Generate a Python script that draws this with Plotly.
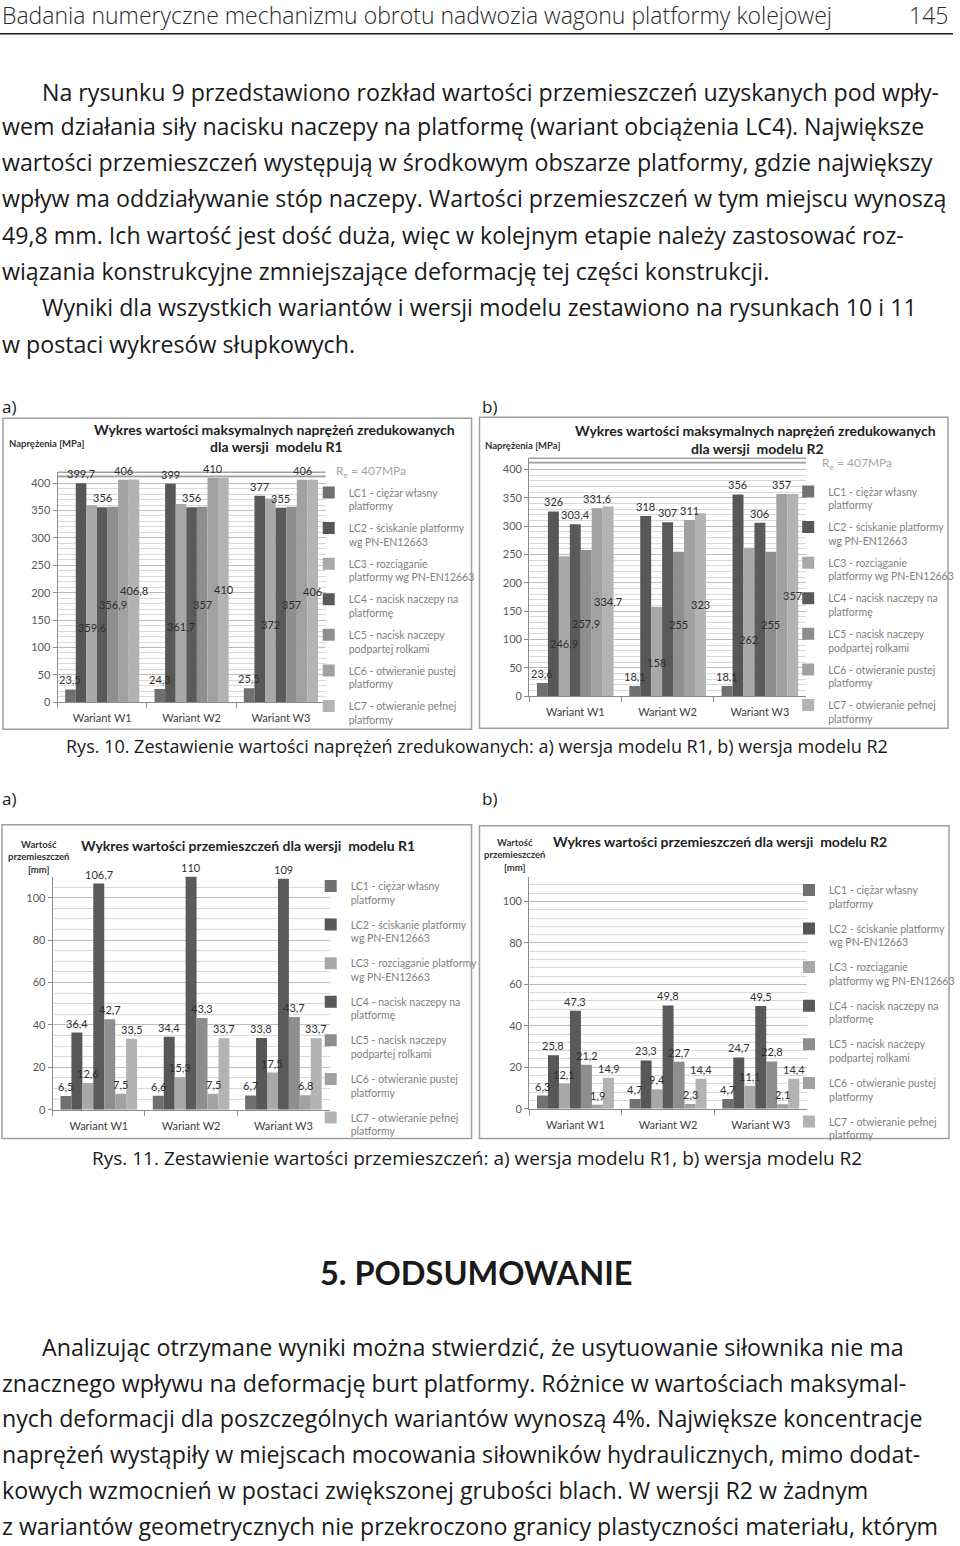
import plotly.graph_objects as go

W, H = 960, 1546

# ---------------- data ----------------
variants = ["Wariant W1", "Wariant W2", "Wariant W3"]
case_colors = ["#707070", "#575757", "#a8a8a8", "#5a5a5a", "#8e8e8e", "#a1a1a1", "#b3b3b3"]

legend_r1_stress = ["LC1 - ciężar własny<br>platformy", "LC2 - ściskanie platformy<br>wg PN-EN12663",
                    "LC3 - rozciąganie<br>platformy wg PN-EN12663", "LC4 - nacisk naczepy na<br>platformę",
                    "LC5 - nacisk naczepy<br>podpartej rolkami", "LC6 - otwieranie pustej<br>platformy",
                    "LC7 - otwieranie pełnej<br>platformy"]
legend_r2_stress = ["LC1 - ciężar własny<br>platformy", "LC2 - ściskanie platformy<br>wg PN-EN12663",
                    "LC3 - rozciąganie<br>platformy wg PN-EN12663", "LC4 - nacisk naczepy na<br>platformę",
                    "LC5 - nacisk naczepy<br>podpartej rolkami", "LC6 - otwieranie pustej<br>platformy",
                    "LC7 - otwieranie pełnej<br>platformy"]
legend_r1_disp = ["LC1 - ciężar własny<br>platformy", "LC2 - ściskanie platformy<br>wg PN-EN12663",
                  "LC3 - rozciąganie platformy<br>wg PN-EN12663", "LC4 - nacisk naczepy na<br>platformę",
                  "LC5 - nacisk naczepy<br>podpartej rolkami", "LC6 - otwieranie pustej<br>platformy",
                  "LC7 - otwieranie pełnej<br>platformy"]
legend_r2_disp = ["LC1 - ciężar własny<br>platformy", "LC2 - ściskanie platformy<br>wg PN-EN12663",
                  "LC3 - rozciąganie<br>platformy wg PN-EN12663", "LC4 - nacisk naczepy na<br>platformę",
                  "LC5 - nacisk naczepy<br>podpartej rolkami", "LC6 - otwieranie pustej<br>platformy",
                  "LC7 - otwieranie pełnej<br>platformy"]

# values per load case LC1..LC7, each for (W1, W2, W3)
stress_r1 = [[23.5, 24.3, 25.5], [399.7, 399, 377], [359.6, 361.7, 372], [356, 356, 355],
             [356.9, 357, 357], [406, 410, 406], [406.8, 410, 406]]
stress_r2 = [[23.6, 18.1, 18.1], [326, 318, 356], [246.9, 158, 262], [303.4, 307, 306],
             [257.9, 255, 255], [331.6, 311, 357], [334.7, 323, 357]]
disp_r1 = [[6.5, 6.6, 6.7], [36.4, 34.4, 33.8], [12.6, 15.3, 17.5], [106.7, 110, 109],
           [42.7, 43.3, 43.7], [7.5, 7.5, 6.8], [33.5, 33.7, 33.7]]
disp_r2 = [[6.3, 4.7, 4.7], [25.8, 23.3, 24.7], [12.1, 9.4, 11.1], [47.3, 49.8, 49.5],
           [21.2, 22.7, 22.8], [1.9, 2.3, 2.1], [14.9, 14.4, 14.4]]

# label placement: None = above the bar, number = fraction of bar height (inside)
stress_label_pos = [None, None, 0.38, None, 0.5, None, 0.5]
disp_label_pos = [None] * 7

yield_strength = "R<sub>e</sub> = 407MPa"

# ---------------- helpers ----------------
def px_x(p):
    return p / W

def px_y(p):
    return 1 - p / H

CH = "Lato, 'Open Sans', sans-serif"
BODY = "'Open Sans', Lato, sans-serif"
BARGAP = 0.17

fig = go.Figure()

charts = [
    dict(data=stress_r1, legend_txt=legend_r1_stress, pos=stress_label_pos, ax="", lg="legend",
         xd=(58, 328), yd=(474, 705), rng=[0, 420], dtick=50, minor=10),
    dict(data=stress_r2, legend_txt=legend_r2_stress, pos=stress_label_pos, ax="2", lg="legend2",
         xd=(533, 812), yd=(460, 699), rng=[0, 420], dtick=50, minor=10),
    dict(data=disp_r1, legend_txt=legend_r1_disp, pos=disp_label_pos, ax="3", lg="legend3",
         xd=(53, 332), yd=(880, 1114), rng=[0, 110], dtick=20, minor=5),
    dict(data=disp_r2, legend_txt=legend_r2_disp, pos=disp_label_pos, ax="4", lg="legend4",
         xd=(533, 813), yd=(880, 1113), rng=[0, 112], dtick=20, minor=4),
]

def fmt(v):
    return ("%g" % v).replace(".", ",")

ann = []
for ci, c in enumerate(charts):
    cat_w = (c["xd"][1] - c["xd"][0]) / 3.0
    bar_w = cat_w * (1 - BARGAP) / 7.0
    for k in range(7):
        vals = c["data"][k]
        fig.add_trace(go.Bar(
            x=variants, y=vals, name=c["legend_txt"][k],
            marker=dict(color=case_colors[k], line=dict(width=0)),
            xaxis="x" + c["ax"], yaxis="y" + c["ax"],
            legend=c["lg"], legendgroup=f"g{ci}_{k}", showlegend=True,
            hoverinfo="skip",
        ))
        # data labels drawn on top of all bars
        frac = c["pos"][k]
        for v, cat in zip(vals, variants):
            inside = frac is not None
            ann.append(dict(
                x=cat, y=(v * frac if inside else v), xref="x" + c["ax"], yref="y" + c["ax"],
                xshift=(k - 3) * bar_w, yshift=(0 if inside else 1),
                yanchor=("middle" if inside else "bottom"), xanchor="center",
                text=fmt(v), showarrow=False,
                font=dict(family=CH, size=11, color="#303030"),
            ))

layout = dict(
    width=W, height=H, margin=dict(l=0, r=0, t=0, b=0),
    paper_bgcolor="white", plot_bgcolor="white",
    barmode="group", bargap=BARGAP, bargroupgap=0,
    font=dict(family=CH, color="#404040"),
    showlegend=True,
)

for ci, c in enumerate(charts):
    xa = "xaxis" + c["ax"]
    ya = "yaxis" + c["ax"]
    layout[xa] = dict(
        domain=[px_x(c["xd"][0]), px_x(c["xd"][1])], anchor="y" + c["ax"],
        type="category", range=[-0.5, 2.5], showgrid=False,
        showline=True, linecolor="#8c8c8c", linewidth=1,
        ticks="outside", tickson="boundaries", ticklen=5, tickcolor="#8c8c8c",
        ticklabelstandoff=6,
        tickfont=dict(family=CH, size=11, color="#404040"), fixedrange=True,
    )
    layout[ya] = dict(
        domain=[px_y(c["yd"][1]), px_y(c["yd"][0])], anchor="x" + c["ax"],
        range=c["rng"], dtick=c["dtick"], showgrid=True, gridcolor="#bdbdbd", gridwidth=1,
        minor=dict(dtick=c["minor"], showgrid=True, gridcolor="#d9d9d9", gridwidth=1),
        showline=True, linecolor="#8c8c8c", linewidth=1, zeroline=False,
        ticks="outside", ticklen=4, tickcolor="#8c8c8c",
        tickfont=dict(family=CH, size=11, color="#595959"), fixedrange=True,
    )

legend_pos = {
    "legend": (311, 481, 5.3),
    "legend2": (794, 480, 5.3),
    "legend3": (313, 876, 8.3),
    "legend4": (795, 880, 8.3),
}
for lg, (lx, ly, gap) in legend_pos.items():
    layout[lg] = dict(
        x=px_x(lx), y=px_y(ly), xanchor="left", yanchor="top",
        bgcolor="rgba(0,0,0,0)", font=dict(family=CH, size=10.5, color="#7f7f7f"),
        traceorder="grouped", tracegroupgap=gap, valign="top",
        itemclick=False, itemdoubleclick=False,
    )

fig.update_layout(**layout)

shapes = []

def text(x, y, s, size, color="#1a1a1a", xanchor="left", weight="normal", family=BODY, yanchor="middle"):
    ann.append(dict(x=px_x(x), y=px_y(y), xref="paper", yref="paper", text=s, showarrow=False,
                    xanchor=xanchor, yanchor=yanchor,
                    font=dict(family=family, size=size, color=color, weight=weight)))

# header
text(0, 15, "Badania numeryczne mechanizmu obrotu nadwozia wagonu platformy kolejowej", 23, "#2a2a2a", weight=300)
text(957, 15, "145", 23, "#2a2a2a", xanchor="right", weight=300)
shapes.append(dict(type="line", xref="paper", yref="paper", x0=0, x1=1, y0=px_y(34), y1=px_y(34),
                   line=dict(color="#1a1a1a", width=1.5)))

para1 = [
    (40, "Na rysunku 9 przedstawiono rozkład wartości przemieszczeń uzyskanych pod wpły-"),
    (0, "wem działania siły nacisku naczepy na platformę (wariant obciążenia LC4). Największe"),
    (0, "wartości przemieszczeń występują w środkowym obszarze platformy, gdzie największy"),
    (0, "wpływ ma oddziaływanie stóp naczepy. Wartości przemieszczeń w tym miejscu wynoszą"),
    (0, "49,8 mm. Ich wartość jest dość duża, więc w kolejnym etapie należy zastosować roz-"),
    (0, "wiązania konstrukcyjne zmniejszające deformację tej części konstrukcji."),
    (40, "Wyniki dla wszystkich wariantów i wersji modelu zestawiono na rysunkach 10 i 11"),
    (0, "w postaci wykresów słupkowych."),
]
para1_y = [92, 126, 163, 199, 236, 272, 308, 345]
for (x0, s), yy in zip(para1, para1_y):
    text(x0, yy, s, 23.2)

text(0, 408, "a)", 17)
text(484, 408, "b)", 17)
text(0, 802, "a)", 17)
text(484, 802, "b)", 17)

# frames
for (x0, y0, x1, y1) in [(3, 420, 475, 732), (483, 419, 955, 731), (2, 828, 475, 1143), (483, 829, 956, 1143)]:
    shapes.append(dict(type="rect", xref="paper", yref="paper", x0=px_x(x0), x1=px_x(x1),
                       y0=px_y(y1), y1=px_y(y0), line=dict(color="#a0a0a0", width=1.5),
                       fillcolor="rgba(0,0,0,0)", layer="below"))

# Re double lines at top of stress charts
for ax in ["", "2"]:
    for yy in [0.982, 1.0]:
        shapes.append(dict(type="line", xref="x%s domain" % ax, yref="y%s domain" % ax,
                           x0=0, x1=1, y0=yy, y1=yy, line=dict(color="#a0a0a0", width=1.5)))

# chart titles
text(277, 431, "Wykres wartości maksymalnych naprężeń zredukowanych", 14, "#222222", "center", "bold", CH)
text(279, 448, "dla wersji  modelu R1", 14, "#222222", "center", "bold", CH)
text(761, 432, "Wykres wartości maksymalnych naprężeń zredukowanych", 14, "#222222", "center", "bold", CH)
text(763, 450, "dla wersji  modelu R2", 14, "#222222", "center", "bold", CH)
text(250, 849, "Wykres wartości przemieszczeń dla wersji  modelu R1", 14, "#222222", "center", "bold", CH)
text(725, 845, "Wykres wartości przemieszczeń dla wersji  modelu R2", 14, "#222222", "center", "bold", CH)

# axis titles
text(7, 445, "Naprężenia [MPa]", 9.5, "#333333", weight="bold", family=CH)
text(487, 447, "Naprężenia [MPa]", 9.5, "#333333", weight="bold", family=CH)
text(6, 860, "Wartość<br>przemieszczeń<br>[mm]", 9.5, "#333333", weight="bold", family=CH)
text(486, 858, "Wartość<br>przemieszczeń<br>[mm]", 9.5, "#333333", weight="bold", family=CH)

# yield strength labels
text(336, 473, yield_strength, 12, "#a6a6a6", family=CH)
text(826, 465, yield_strength, 12, "#a6a6a6", family=CH)

# captions
text(480, 749, "Rys. 10. Zestawienie wartości naprężeń zredukowanych: a) wersja modelu R1, b) wersja modelu R2", 18, "#1a1a1a", "center")
text(480, 1163, "Rys. 11. Zestawienie wartości przemieszczeń: a) wersja modelu R1, b) wersja modelu R2", 19, "#1a1a1a", "center")

# section
text(480, 1277, "5. PODSUMOWANIE", 32.5, "#1a1a1a", "center", "bold", CH)

para2 = [
    (40, "Analizując otrzymane wyniki można stwierdzić, że usytuowanie siłownika nie ma"),
    (0, "znacznego wpływu na deformację burt platformy. Różnice w wartościach maksymal-"),
    (0, "nych deformacji dla poszczególnych wariantów wynoszą 4%. Największe koncentracje"),
    (0, "naprężeń wystąpiły w miejscach mocowania siłowników hydraulicznych, mimo dodat-"),
    (0, "kowych wzmocnień w postaci zwiększonej grubości blach. W wersji R2 w żadnym"),
    (0, "z wariantów geometrycznych nie przekroczono granicy plastyczności materiału, którym"),
]
para2_y = [1352, 1388, 1424, 1460, 1496, 1532]
for (x0, s), yy in zip(para2, para2_y):
    text(x0, yy, s, 23.2)

fig.update_layout(shapes=shapes, annotations=ann)
fig.write_html("out.html")
